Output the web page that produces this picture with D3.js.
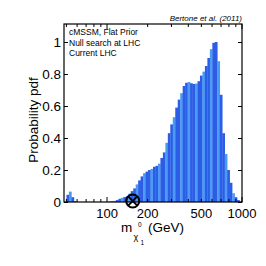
<!DOCTYPE html>
<html>
<head>
<meta charset="utf-8">
<script src="https://cdn.jsdelivr.net/npm/d3@7"></script>
<style>
  body { margin: 0; background: #fff; }
  svg { display: block; font-family: "Liberation Sans", Arial, sans-serif; }
</style>
</head>
<body>
<svg id="chart" width="266" height="266"></svg>
<script>
// histogram of neutralino mass, log-spaced bins between massLo and massHi
const massLo = 48, massHi = 1000;
const pdf = [
  0.0, 0.045, 0.065, 0.03, 0.005, 0, 0, 0, 0, 0,
  0, 0, 0, 0, 0, 0, 0, 0.001, 0.002, 0.004,
  0.007, 0.012, 0.02, 0.026, 0.031, 0.036, 0.052, 0.068, 0.085, 0.11,
  0.135, 0.16, 0.18, 0.19, 0.2, 0.207, 0.22, 0.226, 0.24, 0.275,
  0.31, 0.37, 0.43, 0.485, 0.53, 0.59, 0.64, 0.68, 0.725, 0.745,
  0.75, 0.742, 0.738, 0.74, 0.755, 0.79, 0.815, 0.85, 0.9, 0.955,
  0.995, 1.0, 0.88, 0.67, 0.43, 0.3, 0.2, 0.12, 0.055, 0.03,
  0.012, 0.003
];
const yTicks = [0, 0.2, 0.4, 0.6, 0.8, 1];
const xTickLabels = [100, 200, 500, 1000];
const notes = ["cMSSM, Flat Prior", "Null search at LHC", "Current LHC"];
const bestFit = 155; // GeV, marker on the axis

const svg = d3.select("#chart");
const mLeft = 64, mRight = 242, mTop = 24, mBottom = 202;

const x = d3.scaleLog().domain([massLo, massHi]).range([mLeft, mRight]);
const y = d3.scaleLinear().domain([0, 1.1125]).range([mBottom, mTop]);

const n = pdf.length;
const step = Math.log10(massHi / massLo) / n;
const bins = pdf.map((v, i) => ({
  lo: massLo * Math.pow(10, step * i),
  hi: massLo * Math.pow(10, step * (i + 1)),
  v: v
}));

svg.append("g").selectAll("rect")
  .data(bins)
  .enter()
  .append("rect")
  .attr("x", d => x(d.lo))
  .attr("y", d => y(d.v))
  .attr("width", d => x(d.hi) - x(d.lo) + 0.3)
  .attr("height", d => mBottom - y(d.v))
  .attr("fill", (d, i) => i % 3 === 2 ? "#4b9bf3" : "#2c5de6");

// frame
svg.append("rect")
  .attr("x", mLeft).attr("y", mTop)
  .attr("width", mRight - mLeft).attr("height", mBottom - mTop)
  .attr("fill", "none").attr("stroke", "#000").attr("stroke-width", 1.2);

// y ticks, inward on both sides
const yAxisL = d3.axisLeft(y).tickValues(yTicks).tickSizeInner(-4).tickSizeOuter(0)
  .tickPadding(3).tickFormat(d => d === 0 || d === 1 ? d : d3.format(".1f")(d));
const gl = svg.append("g").attr("transform", `translate(${mLeft},0)`).call(yAxisL);
gl.select(".domain").remove();
gl.selectAll("text").attr("font-size", 13.5).attr("font-family", "Liberation Sans, Arial, sans-serif");

const yAxisR = d3.axisRight(y).tickValues(yTicks).tickSizeInner(-4).tickSizeOuter(0).tickFormat("");
const gr = svg.append("g").attr("transform", `translate(${mRight},0)`).call(yAxisR);
gr.select(".domain").remove();

// x ticks, log minor ticks on top and bottom
const minor = x.ticks().filter(t => t >= massLo && t <= massHi);
const gb = svg.append("g");
gb.selectAll("line.b")
  .data(minor)
  .enter()
  .append("line")
  .attr("x1", d => x(d)).attr("x2", d => x(d))
  .attr("y1", mBottom).attr("y2", d => mBottom - (d === 100 || d === 1000 ? 5 : 3))
  .attr("stroke", "#000");
gb.selectAll("line.t")
  .data(minor)
  .enter()
  .append("line")
  .attr("x1", d => x(d)).attr("x2", d => x(d))
  .attr("y1", mTop).attr("y2", d => mTop + (d === 100 || d === 1000 ? 5 : 3))
  .attr("stroke", "#000");

svg.append("g").selectAll("text")
  .data(xTickLabels)
  .enter()
  .append("text")
  .attr("x", d => x(d))
  .attr("y", 218)
  .attr("text-anchor", "middle")
  .attr("font-size", 13)
  .text(d => d);

// axis titles
svg.append("text")
  .attr("transform", "translate(38,120) rotate(-90)")
  .attr("text-anchor", "middle")
  .attr("font-size", 13.5)
  .text("Probability pdf");

svg.append("text").attr("x", 121).attr("y", 232).attr("font-size", 13.5).text("m");
svg.append("text").attr("x", 133.5).attr("y", 240).attr("font-size", 9).text("χ");
svg.append("text").attr("x", 138).attr("y", 227).attr("font-size", 6.5).text("0");
svg.append("text").attr("x", 140.5).attr("y", 245).attr("font-size", 6.5).text("1");
svg.append("text").attr("x", 148).attr("y", 232).attr("font-size", 13.5).text("(GeV)");

// notes
svg.append("g").selectAll("text")
  .data(notes)
  .enter()
  .append("text")
  .attr("x", 69)
  .attr("y", (d, i) => 35 + i * 10.5)
  .attr("font-size", 8.5)
  .text(d => d);

svg.append("text")
  .attr("x", mRight).attr("y", 21)
  .attr("text-anchor", "end")
  .attr("font-size", 8)
  .attr("font-style", "italic")
  .text("Bertone et al. (2011)");

// best fit marker
const mk = svg.append("g").attr("transform", `translate(${x(bestFit)},${y(0) - 1})`);
mk.append("circle").attr("r", 6.5).attr("fill", "none").attr("stroke", "#000").attr("stroke-width", 2);
const k = 6.5 * Math.SQRT1_2;
mk.append("line").attr("x1", -k).attr("y1", -k).attr("x2", k).attr("y2", k).attr("stroke", "#000").attr("stroke-width", 2);
mk.append("line").attr("x1", -k).attr("y1", k).attr("x2", k).attr("y2", -k).attr("stroke", "#000").attr("stroke-width", 2);
</script>
</body>
</html>
